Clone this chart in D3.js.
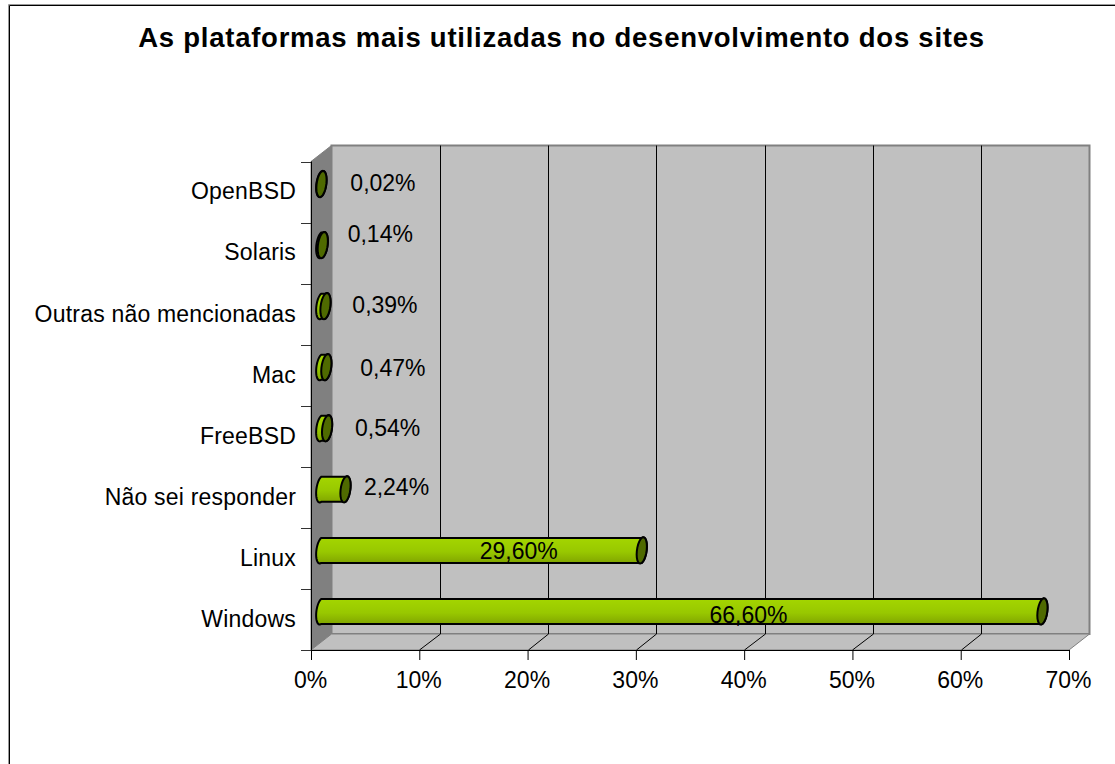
<!DOCTYPE html>
<html>
<head>
<meta charset="utf-8">
<script src="https://cdn.jsdelivr.net/npm/d3@7"></script>
<style>
html, body { margin: 0; padding: 0; background: #fff; }
svg { display: block; }
text { font-family: "Liberation Sans", Arial, sans-serif; fill: #000; }
</style>
</head>
<body>
<div id="graph"></div>
<script>
//chart values
var categories = ["Windows", "Linux", "Não sei responder", "FreeBSD", "Mac", "Outras não mencionadas", "Solaris", "OpenBSD"];
var values = [66.60, 29.60, 2.24, 0.54, 0.47, 0.39, 0.14, 0.02];
var valueLabels = ["66,60%", "29,60%", "2,24%", "0,54%", "0,47%", "0,39%", "0,14%", "0,02%"];
var xTicks = [0, 10, 20, 30, 40, 50, 60, 70];
var chartTitle = "As plataformas mais utilizadas no desenvolvimento dos sites";

(function(){
	"use strict";

	var width = 1115, height = 764;

	//front plane of the 3d box, the back wall sits depthX/depthY away from it
	var left = 311, right = 1069, top = 161.5, bottom = 650;
	var depthX = 20.5, depthY = 16;

	var xScale = d3.scaleLinear().domain([0, 70]).range([left, right]);
	var yScale = d3.scaleBand().domain(categories).range([bottom, top]);

	var svg = d3.select("#graph").append("svg")
		.attr("width", width)
		.attr("height", height);

	var defs = svg.append("defs");
	var grad = defs.append("linearGradient")
		.attr("id", "barFill")
		.attr("x1", 0).attr("y1", 0).attr("x2", 0).attr("y2", 1);
	grad.append("stop").attr("offset", "0%").attr("stop-color", "#a4d600");
	grad.append("stop").attr("offset", "55%").attr("stop-color", "#98c800");
	grad.append("stop").attr("offset", "100%").attr("stop-color", "#80a400");

	//outer border of the chart, only the top and left edges are on the page
	svg.append("path")
		.attr("d", "M8.5," + height + "V4.5H" + width)
		.attr("fill", "none")
		.attr("stroke", "#999");
	svg.append("path")
		.attr("d", "M9.5," + height + "V5.5H" + width)
		.attr("fill", "none")
		.attr("stroke", "#000");

	svg.append("text")
		.attr("x", 561.5).attr("y", 47)
		.attr("text-anchor", "middle")
		.style("font-size", "27.5px")
		.style("font-weight", "bold")
		.style("letter-spacing", "0.75px")
		.text(chartTitle);

	function poly(pts) {
		return "M" + pts.map(function(p){ return p.join(","); }).join("L") + "Z";
	}

	//back wall
	svg.append("path")
		.attr("d", poly([[left + depthX, top - depthY], [right + depthX, top - depthY], [right + depthX, bottom - depthY], [left + depthX, bottom - depthY]]))
		.attr("fill", "#c0c0c0")
		.attr("stroke", "#808080")
		.attr("stroke-width", 2);

	//left wall
	svg.append("path")
		.attr("d", poly([[left, top], [left + depthX, top - depthY], [left + depthX, bottom - depthY], [left, bottom]]))
		.attr("fill", "#808080")
		.attr("stroke", "#808080");

	//floor
	svg.append("path")
		.attr("d", poly([[left, bottom], [left + depthX, bottom - depthY], [right + depthX, bottom - depthY], [right, bottom]]))
		.attr("fill", "#c0c0c0")
		.attr("stroke", "#808080");

	//gridlines, on the back wall and running across the floor
	svg.append("g").selectAll("path")
		.data(xTicks.slice(1, -1))
		.enter()
		.append("path")
		.attr("d", function(d){
			var x = Math.round(xScale(d)) + 0.5;
			var xBack = Math.round(xScale(d) + depthX) + 0.5;
			return "M" + x + "," + bottom + "L" + xBack + "," + (bottom - depthY) + "V" + (top - depthY);
		})
		.attr("fill", "none")
		.attr("stroke", "#000");

	//axes
	var xAxis = d3.axisBottom().scale(xScale)
		.tickValues(xTicks)
		.tickSize(10)
		.tickPadding(12)
		.tickFormat(function(d){ return d + "%"; });
	var gx = svg.append("g")
		.attr("transform", "translate(-1," + bottom + ")")
		.call(xAxis);
	gx.selectAll("text").style("font-size", "23px").attr("font-family", null);
	gx.selectAll("line").attr("transform", "translate(1,0)");
	gx.select(".domain").attr("d", "M" + (left + 1) + ",0.5H" + (right + 1));

	var yAxis = d3.axisLeft().scale(yScale).tickSize(0).tickPadding(15);
	var gy = svg.append("g")
		.attr("transform", "translate(" + left + ",0)")
		.call(yAxis);
	gy.select(".domain").attr("d", "M0.5," + top + "V" + bottom);
	gy.selectAll("text").style("font-size", "23px").style("letter-spacing", "0.2px").attr("font-family", null);
	gy.selectAll(".tick").select("line").remove();

	//tick marks on the band edges, not the centres
	svg.append("g").selectAll("line")
		.data(d3.range(categories.length + 1))
		.enter()
		.append("line")
		.attr("x1", left - 10).attr("x2", left)
		.attr("y1", function(i){ return Math.round(bottom - i * yScale.bandwidth()) + 0.5; })
		.attr("y2", function(i){ return Math.round(bottom - i * yScale.bandwidth()) + 0.5; })
		.attr("stroke", "#333");

	//cylinders: the end caps are sheared ellipses following the depth direction
	var r = 12.5, capX = depthX / 4, capY = depthY / 4;
	var baseX = depthX / 2, baseY = depthY / 2;

	function capPoint(cx, cy, t) {
		return [cx + capX * Math.sin(t), cy - capY * Math.sin(t) - r * Math.cos(t)];
	}

	function capPath(cx, cy, from, to) {
		return d3.range(0, 25).map(function(i){
			return capPoint(cx, cy, from + (to - from) * i / 24);
		});
	}

	var bars = svg.append("g").selectAll("g")
		.data(categories)
		.enter()
		.append("g");

	function barY(d) { return yScale(d) + yScale.bandwidth() / 2 - baseY; }
	function barX(i) { return xScale(values[i]) + baseX; }

	bars.append("path")
		.attr("d", function(d, i){
			var cy = barY(d), x0 = left + baseX, x1 = barX(i);
			//left half of the start cap, then right half of the far cap
			var pts = capPath(x0, cy, Math.PI, 2 * Math.PI).concat(capPath(x1, cy, 0, Math.PI));
			return poly(pts);
		})
		.attr("fill", "url(#barFill)")
		.attr("stroke", "#000")
		.attr("stroke-width", 2);

	bars.append("path")
		.attr("d", function(d, i){
			return poly(capPath(barX(i), barY(d), 0, 2 * Math.PI));
		})
		.attr("fill", "#4f6a00")
		.attr("stroke", "#000")
		.attr("stroke-width", 2);

	//data labels were dragged around by hand in the original, so nudges are per label
	var labelDx = [-294, -123, 51, 60.5, 66.5, 59.5, 57.5, 61.5];
	var labelDy = [-5, -7, -10.5, -8.5, -7.5, -9.5, -19.5, -9.5];

	svg.append("g").selectAll("text")
		.data(categories)
		.enter()
		.append("text")
		.attr("x", function(d, i){ return barX(i) + labelDx[i]; })
		.attr("y", function(d, i){ return yScale(d) + yScale.bandwidth() / 2 + labelDy[i]; })
		.attr("dy", "0.35em")
		.attr("text-anchor", "middle")
		.style("font-size", "23px")
		.text(function(d, i){ return valueLabels[i]; });
})();
</script>
</body>
</html>
